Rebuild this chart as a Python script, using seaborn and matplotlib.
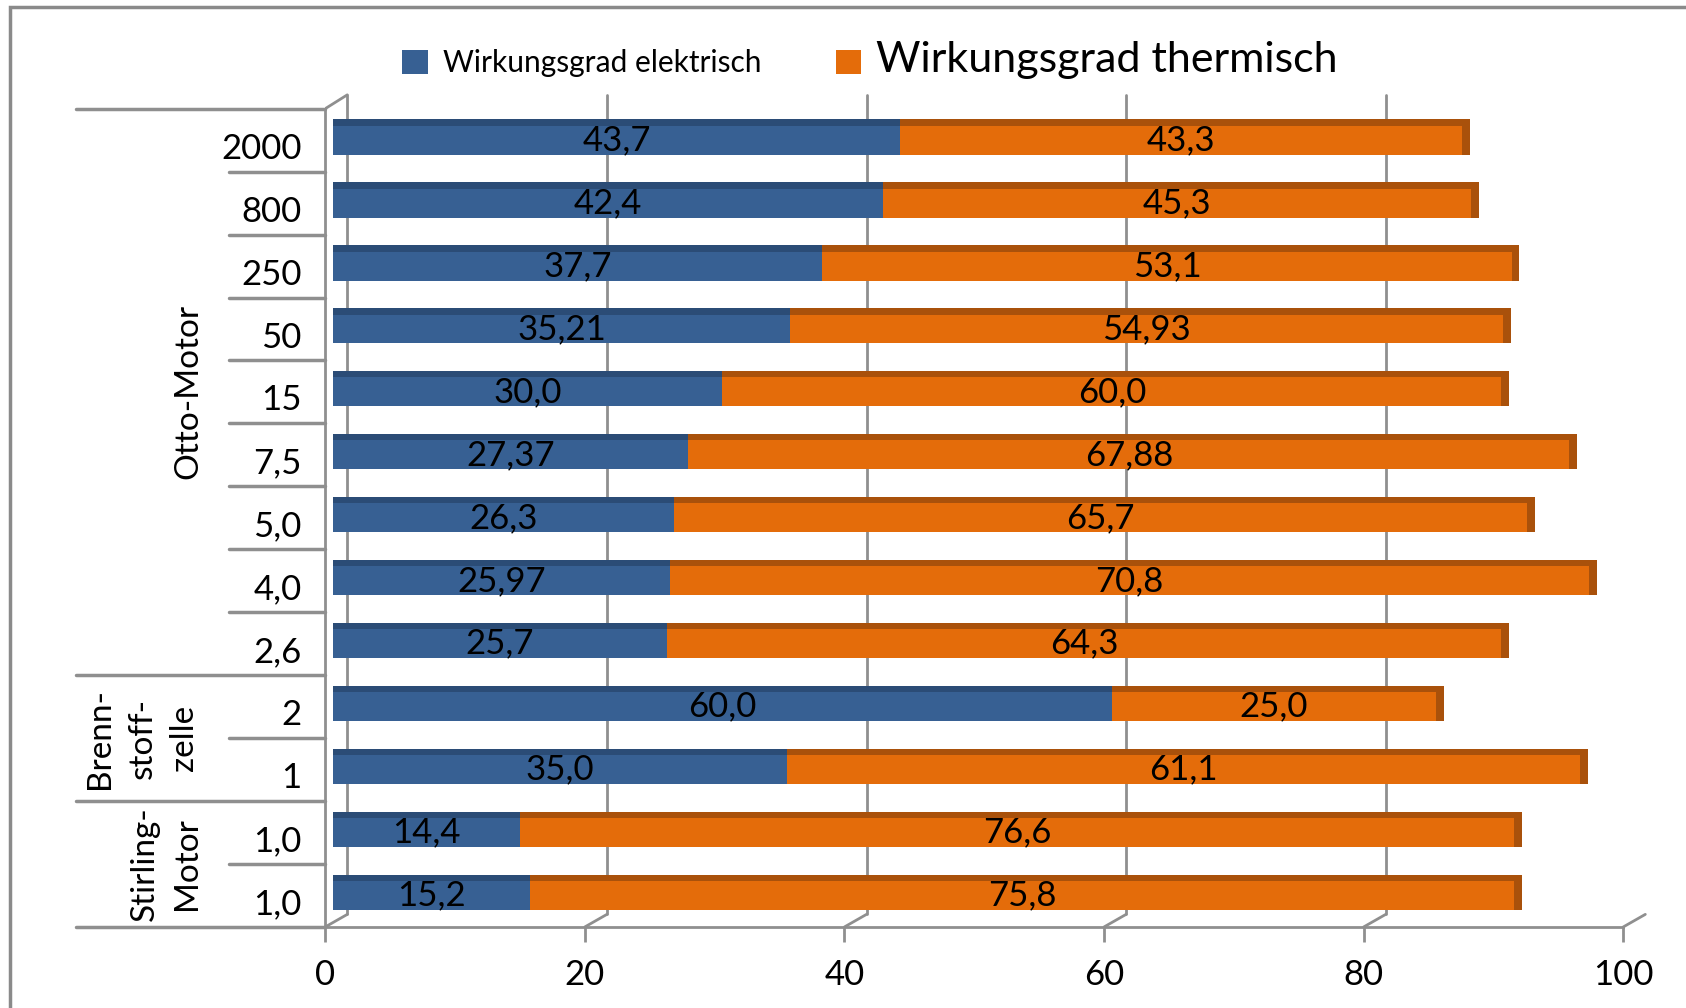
import matplotlib
matplotlib.use("Agg")
import matplotlib.pyplot as plt
import matplotlib.transforms as mtransforms
from matplotlib.patches import Rectangle
import numpy as np
import pandas as pd
import seaborn as sns

# data, top row first
groups = ["Otto-Motor"] * 9 + ["Brenn-\nstoff-\nzelle"] * 2 + ["Stirling-\nMotor"] * 2
sizes = ["2000", "800", "250", "50", "15", "7,5", "5,0", "4,0", "2,6", "2", "1", "1,0", "1,0"]
elec_txt = ["43,7", "42,4", "37,7", "35,21", "30,0", "27,37", "26,3", "25,97", "25,7",
            "60,0", "35,0", "14,4", "15,2"]
therm_txt = ["43,3", "45,3", "53,1", "54,93", "60,0", "67,88", "65,7", "70,8", "64,3",
             "25,0", "61,1", "76,6", "75,8"]
xticks = [0, 20, 40, 60, 80, 100]

BLUE, DBLUE = "#376093", "#2b4c76"
ORANGE, DORANGE = "#e46c0a", "#a9510b"
GRID = "#8f8f8f"

df = pd.DataFrame({
    "row": [f"r{i}" for i in range(len(sizes))],
    "group": groups,
    "elec": [float(s.replace(",", ".")) for s in elec_txt],
    "therm": [float(s.replace(",", ".")) for s in therm_txt],
})
df["total"] = df["elec"] + df["therm"]
pos = np.arange(len(df))

sns.set_style("white")
plt.rcParams["font.family"] = ["Lato", "DejaVu Sans"]
plt.rcParams["text.color"] = "black"
plt.rcParams["xtick.labelcolor"] = "black"
plt.rcParams["ytick.labelcolor"] = "black"

fig = plt.figure(figsize=(16.86, 10.08), dpi=100)
ax = fig.add_axes([0.1929, 0.0804, 0.7822, 0.8274])

bw = 0.46
sns.barplot(data=df, y="row", x="total", orient="h", color=ORANGE, saturation=1,
            width=bw, linewidth=0, errorbar=None, ax=ax, label="Wirkungsgrad thermisch", zorder=3)
sns.barplot(data=df, y="row", x="elec", orient="h", color=BLUE, saturation=1,
            width=bw, linewidth=0, errorbar=None, ax=ax, label="Wirkungsgrad elektrisch", zorder=3)

# fake 3d: top faces and end caps
top = 0.1
ax.barh(pos - bw / 2 - top / 2, df["elec"], height=top, color=DBLUE, lw=0, zorder=3)
ax.barh(pos - bw / 2 - top / 2, df["therm"], left=df["elec"], height=top, color=DORANGE, lw=0, zorder=3)
ax.barh(pos - top / 2, 0.6, left=df["total"], height=bw + top, color=DORANGE, lw=0, zorder=3)

for i, r in df.iterrows():
    ax.text(r["elec"] / 2, i, elec_txt[i], ha="center", va="center", fontsize=25, zorder=5)
    ax.text(r["elec"] + r["therm"] / 2, i, therm_txt[i], ha="center", va="center",
            fontsize=25, zorder=5)

ax.set_xlim(-0.6, 101)
ax.set_ylim(12.5, -0.75)

# back wall gridlines with little diagonals to the front axis
for v in xticks:
    ax.plot([v + 1.1, v + 1.1], [-0.72, 12.3], color=GRID, lw=2, zorder=1)
    ax.plot([v + 1.1, v - 0.6], [12.3, 12.5], color=GRID, lw=2, zorder=1, clip_on=False)
ax.plot([-0.6, 1.1], [-0.5, -0.72], color=GRID, lw=2, zorder=1)

for s in ["top", "right"]:
    ax.spines[s].set_visible(False)
for s in ["left", "bottom"]:
    ax.spines[s].set_color(GRID)
    ax.spines[s].set_linewidth(2)
ax.spines["bottom"].set_bounds(-0.6, 99.4)
ax.spines["left"].set_bounds(-0.5, 12.5)

ax.set_xticks([v - 0.6 for v in xticks])
ax.set_xticklabels([str(v) for v in xticks])
ax.set_yticks(pos)
ax.set_yticklabels(sizes)
ax.tick_params(axis="x", length=11, width=2, color=GRID, pad=12, labelsize=25, bottom=True)
ax.tick_params(axis="y", length=0, pad=17, labelsize=25)
ax.set_xlabel("")
ax.set_ylabel("")
shift = mtransforms.ScaledTranslation(0, -4 / 72, fig.dpi_scale_trans)
for lab in ax.get_yticklabels():
    lab.set_transform(lab.get_transform() + shift)

# category table on the left
trans = mtransforms.blended_transform_factory(fig.transFigure, ax.transData)
x_axis = 325 / 1686
bounds = [-0.5] + [i + 0.5 for i in range(len(groups) - 1) if groups[i] != groups[i + 1]] + [len(groups) - 0.5]
for y in bounds:
    ax.plot([76 / 1686, x_axis], [y, y], color=GRID, lw=2.5, transform=trans, clip_on=False)
for i in range(len(groups) - 1):
    if groups[i] == groups[i + 1]:
        ax.plot([229 / 1686, x_axis], [i + 0.5, i + 0.5], color=GRID, lw=2.5,
                transform=trans, clip_on=False)

group_x = {"Otto-Motor": 0.1115, "Brenn-\nstoff-\nzelle": 0.0845, "Stirling-\nMotor": 0.0985}
for g in dict.fromkeys(groups):
    yc = np.mean([i for i, gg in enumerate(groups) if gg == g])
    ax.text(group_x[g], yc, g, rotation=90, ha="center", va="center", multialignment="center",
            fontsize=24, linespacing=1.5, transform=trans)

h, l = ax.get_legend_handles_labels()
leg = ax.legend([h[1], h[0]], [l[1], l[0]], loc="center", bbox_to_anchor=(0.516, 0.94),
                bbox_transform=fig.transFigure, ncol=2, frameon=False, fontsize=21.5,
                handlelength=0.85, handleheight=0.85, handletextpad=0.5, columnspacing=2.5)
leg.get_texts()[1].set_fontsize(31)

fig.add_artist(Rectangle((10 / 1686, -0.1), 1.5, 1.1 - 7 / 1008, transform=fig.transFigure,
                         fill=False, ec="#8a8a8a", lw=2.5))

fig.savefig("out.png", dpi=100)
